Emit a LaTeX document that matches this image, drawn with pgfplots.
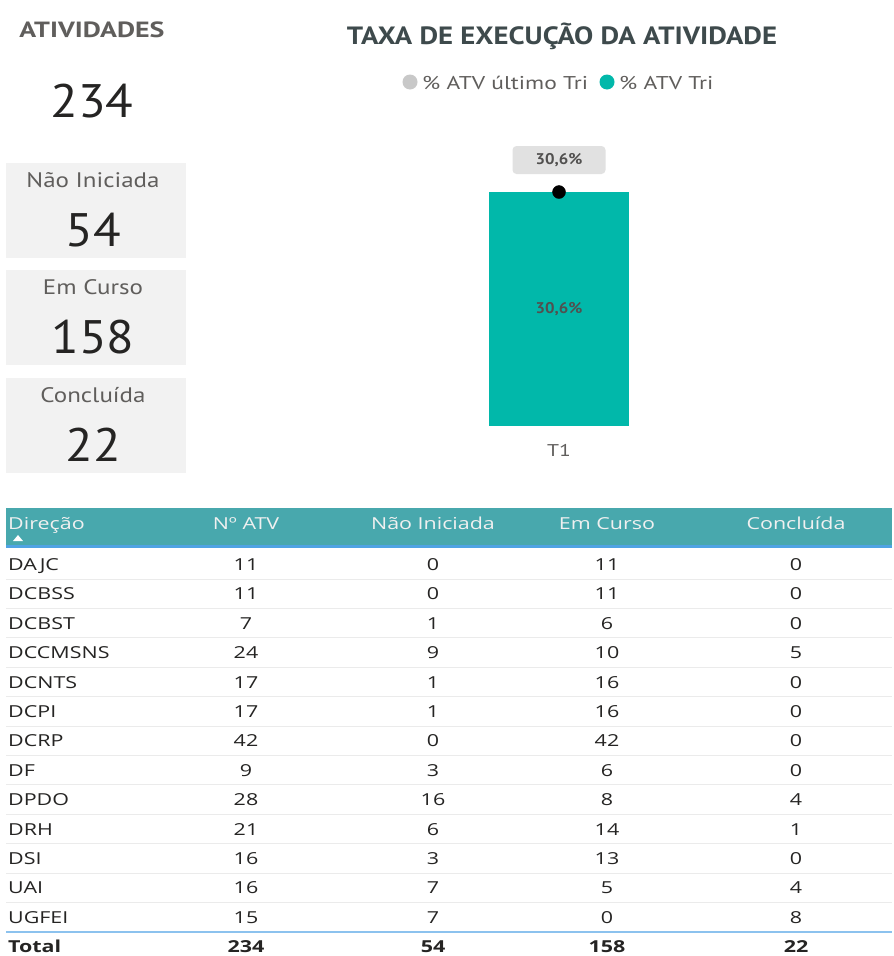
\documentclass[border=0pt]{standalone}
\usepackage{pgfplots}
\pgfplotsset{compat=1.18}
\usepackage{fontspec}
\setmainfont{Open Sans}
\newfontfamily\dinfont[FakeStretch=1.08]{PT Sans}
\newfontfamily\dinhead[FakeStretch=1.27]{PT Sans}
\newfontfamily\dintitle[FakeStretch=1.15]{PT Sans}
\newfontfamily\dincard[FakeStretch=1.19]{PT Sans}
\newfontfamily\dinleg[FakeStretch=1.27]{PT Sans}
\newfontfamily\tabfont[FakeStretch=1.3]{Open Sans}
\definecolor{pbteal}{HTML}{01B8AA}
\definecolor{hdrteal}{HTML}{48A8AD}
\definecolor{cardbg}{HTML}{F2F2F2}
\definecolor{lblgray}{HTML}{605E5C}
\definecolor{numcol}{HTML}{252423}
\definecolor{titlecol}{HTML}{3E4A4C}
\definecolor{legdot}{HTML}{C8C8C8}
\definecolor{boxgray}{HTML}{E1E1E1}
\definecolor{sepgray}{HTML}{EBEBEB}
\definecolor{blueline}{HTML}{4FA3E3}
\definecolor{bluelight}{HTML}{8CC2EE}
\definecolor{tabtext}{HTML}{252423}
\begin{document}
\begin{tikzpicture}
\begin{scope}[x=1pt,y=-1pt]
\fill[white] (0,0) rectangle (892,956);
% KPI block
\node[anchor=base, inner sep=0, font=\dinhead\bfseries\fontsize{22}{26}\selectfont, text=lblgray] at (92,37) {ATIVIDADES};
\node[anchor=base, inner sep=0, font=\dinfont\fontsize{47}{52}\selectfont, text=numcol] at (92,117) {234};
% cards
\foreach \top/\lab/\val in {163/Não Iniciada/54, 270/Em Curso/158, 378/Concluída/22}{
  \fill[cardbg] (6,\top) rectangle (186,\top+95);
  \node[anchor=base, inner sep=0, font=\dincard\fontsize{21}{25}\selectfont, text=lblgray] at (93,\top+24) {\lab};
  \node[anchor=base, inner sep=0, font=\dinfont\fontsize{47}{52}\selectfont, text=numcol] at (93,\top+83) {\val};
}
% title and legend
\node[anchor=base, inner sep=0, font=\dintitle\bfseries\fontsize{25}{29}\selectfont, text=titlecol] at (562,44.5) {TAXA DE EXECUÇÃO DA ATIVIDADE};
\fill[legdot] (410,82) circle (7.5);
\node[anchor=base west, inner sep=0, font=\dinleg\fontsize{18.5}{22}\selectfont, text=lblgray] at (422,89) {\% ATV último Tri};
\fill[pbteal] (607,82) circle (7.5);
\node[anchor=base west, inner sep=0, font=\dinleg\fontsize{18.5}{22}\selectfont, text=lblgray] at (619,89) {\% ATV Tri};
% table header
\fill[hdrteal] (6,508) rectangle (892,545);
\draw[blueline, line width=2.2] (6,546.5) -- (892,546.5);
\fill[white] (13,541) -- (23,541) -- (18,535) -- cycle;
\begin{scope}[every node/.style={anchor=base, inner sep=0, font=\tabfont\fontsize{16.5}{20}\selectfont, text=white!94!black}]
\node[anchor=base west] at (8,529) {Direção};
\node at (246,529) {Nº ATV};
\node at (433,529) {Não Iniciada};
\node at (607,529) {Em Curso};
\node at (796,529) {Concluída};
\end{scope}
% table rows
\foreach \name/\a/\b/\c/\d [count=\i from 0] in {DAJC/11/0/11/0, DCBSS/11/0/11/0, DCBST/7/1/6/0, DCCMSNS/24/9/10/5, DCNTS/17/1/16/0, DCPI/17/1/16/0, DCRP/42/0/42/0, DF/9/3/6/0, DPDO/28/16/8/4, DRH/21/6/14/1, DSI/16/3/13/0, UAI/16/7/5/4, UGFEI/15/7/0/8}{
  \pgfmathsetmacro\yb{570.5+29.4*\i}
  \pgfmathsetmacro\ys{579+29.4*\i}
  \ifnum\i<12 \draw[sepgray, line width=1] (6,\ys) -- (892,\ys); \fi
  \begin{scope}[every node/.style={anchor=base, inner sep=0, font=\tabfont\fontsize{16.5}{20}\selectfont, text=tabtext}]
  \node[anchor=base west] at (8,\yb) {\name};
  \node at (246,\yb) {\a};
  \node at (433,\yb) {\b};
  \node at (607,\yb) {\c};
  \node at (796,\yb) {\d};
  \end{scope}
}
\draw[bluelight, line width=1.3] (6,932) -- (892,932);
\begin{scope}[every node/.style={anchor=base, inner sep=0, font=\tabfont\bfseries\fontsize{16.5}{20}\selectfont, text=tabtext}]
\node[anchor=base west] at (8,952.5) {Total};
\node at (246,952.5) {234};
\node at (433,952.5) {54};
\node at (607,952.5) {158};
\node at (796,952.5) {22};
\end{scope}
\end{scope}
% chart
\begin{axis}[
  at={(250pt,-426pt)}, anchor=south west,
  scale only axis, width=618pt, height=305.88pt,
  xmin=-0.5, xmax=0.5, ymin=0, ymax=40,
  axis line style={draw=none},
  ytick=\empty, xtick={0}, xticklabels={T1},
  major tick length=0pt,
  xticklabel style={font=\dinleg\fontsize{17}{20}\selectfont, text=lblgray, yshift=-15pt},
  clip=false,
]
\addplot[ybar, bar width=140pt, fill=pbteal, draw=none,
  nodes near coords={\pgfmathprintnumber[fixed,precision=1,fixed zerofill,use comma,assume math mode=true]{\pgfplotspointmeta}\%},
  every node near coord/.append style={anchor=center, yshift=-117pt, font=\dinfont\bfseries\fontsize{15.5}{18}\selectfont, text=numcol!80}]
  coordinates {(0,30.6)};
\addplot[only marks, mark=*, mark size=6.5pt, black,
  nodes near coords={\pgfmathprintnumber[fixed,precision=1,fixed zerofill,use comma,assume math mode=true]{\pgfplotspointmeta}\%},
  every node near coord/.append style={anchor=center, yshift=32pt, fill=boxgray, rounded corners=4pt, minimum width=93pt, minimum height=28pt, font=\dinfont\bfseries\fontsize{15.5}{18}\selectfont, text=numcol!80}]
  coordinates {(0,30.6)};
\end{axis}
\end{tikzpicture}
\end{document}
